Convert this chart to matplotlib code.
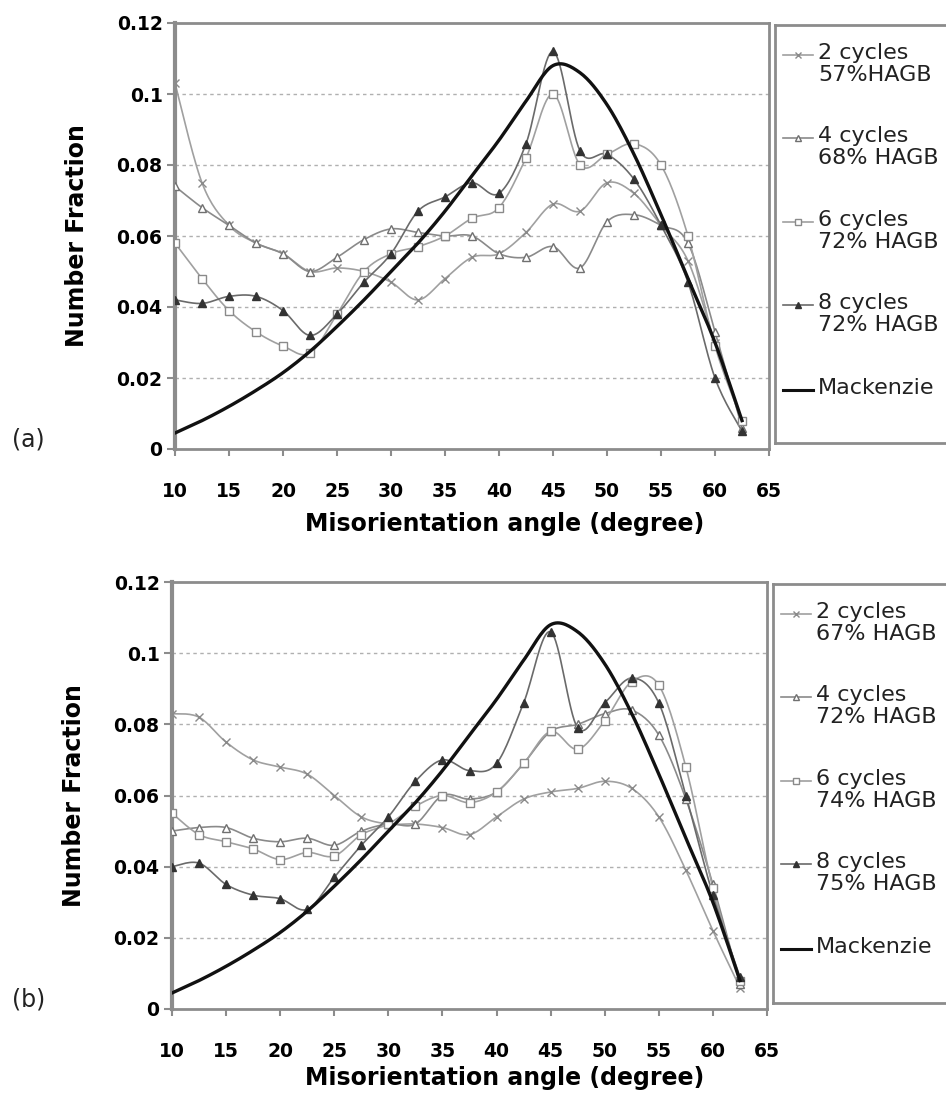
import numpy as np
import matplotlib
matplotlib.use("Agg")
import matplotlib.pyplot as plt

# ---------------- data ----------------
angles = [10, 12.5, 15, 17.5, 20, 22.5, 25, 27.5, 30, 32.5, 35, 37.5,
          40, 42.5, 45, 47.5, 50, 52.5, 55, 57.5, 60, 62.5]

mackenzie = [0.0045, 0.0080, 0.0120, 0.0165, 0.0215, 0.0275, 0.0345, 0.042,
             0.050, 0.058, 0.067, 0.077, 0.087, 0.098, 0.108, 0.106, 0.097,
             0.083, 0.066, 0.048, 0.030, 0.008]

a_2cyc = [0.103, 0.075, 0.063, 0.058, 0.055, 0.050, 0.051, 0.050, 0.047, 0.042, 0.048,
          0.054, 0.055, 0.061, 0.069, 0.067, 0.075, 0.072, 0.063, 0.053, 0.030, 0.008]
a_4cyc = [0.074, 0.068, 0.063, 0.058, 0.055, 0.050, 0.054, 0.059, 0.062, 0.061, 0.060,
          0.060, 0.055, 0.054, 0.057, 0.051, 0.064, 0.066, 0.063, 0.058, 0.033, 0.006]
a_6cyc = [0.058, 0.048, 0.039, 0.033, 0.029, 0.027, 0.038, 0.050, 0.055, 0.057, 0.060,
          0.065, 0.068, 0.082, 0.100, 0.080, 0.083, 0.086, 0.080, 0.060, 0.029, 0.008]
a_8cyc = [0.042, 0.041, 0.043, 0.043, 0.039, 0.032, 0.038, 0.047, 0.055, 0.067, 0.071,
          0.075, 0.072, 0.086, 0.112, 0.084, 0.083, 0.076, 0.063, 0.047, 0.020, 0.005]

b_2cyc = [0.083, 0.082, 0.075, 0.070, 0.068, 0.066, 0.060, 0.054, 0.052, 0.052, 0.051,
          0.049, 0.054, 0.059, 0.061, 0.062, 0.064, 0.062, 0.054, 0.039, 0.022, 0.006]
b_4cyc = [0.050, 0.051, 0.051, 0.048, 0.047, 0.048, 0.046, 0.050, 0.052, 0.052, 0.060,
          0.059, 0.061, 0.069, 0.078, 0.080, 0.083, 0.084, 0.077, 0.059, 0.035, 0.007]
b_6cyc = [0.055, 0.049, 0.047, 0.045, 0.042, 0.044, 0.043, 0.049, 0.052, 0.057, 0.060,
          0.058, 0.061, 0.069, 0.078, 0.073, 0.081, 0.092, 0.091, 0.068, 0.034, 0.008]
b_8cyc = [0.040, 0.041, 0.035, 0.032, 0.031, 0.028, 0.037, 0.046, 0.054, 0.064, 0.070,
          0.067, 0.069, 0.086, 0.106, 0.079, 0.086, 0.093, 0.086, 0.060, 0.032, 0.009]

labels_a = ["2 cycles\n57%HAGB", "4 cycles\n68% HAGB", "6 cycles\n72% HAGB",
            "8 cycles\n72% HAGB", "Mackenzie"]
labels_b = ["2 cycles\n67% HAGB", "4 cycles\n72% HAGB", "6 cycles\n74% HAGB",
            "8 cycles\n75% HAGB", "Mackenzie"]

xticks = [10, 15, 20, 25, 30, 35, 40, 45, 50, 55, 60, 65]
yticks = [0, 0.02, 0.04, 0.06, 0.08, 0.1, 0.12]
ytick_labels = ["0", "0.02", "0.04", "0.06", "0.08", "0.1", "0.12"]

# ---------------- styles ----------------
styles = [
    dict(color="#a0a0a0", marker="x", mfc="none", mec="#8a8a8a", ms=5.5, mew=1.0),
    dict(color="#8a8a8a", marker="^", mfc="white", mec="#707070", ms=6, mew=1.0),
    dict(color="#a0a0a0", marker="s", mfc="white", mec="#8a8a8a", ms=6, mew=1.0),
    dict(color="#6a6a6a", marker="^", mfc="#333333", mec="#333333", ms=6, mew=1.0),
]
FRAME = "#8c8c8c"
FONT = "DejaVu Sans"


def smooth(x, y, n=16):
    """Catmull-Rom rendering of a polyline (Excel-like smoothed line)."""
    p = np.column_stack([x, y]).astype(float)
    out = []
    for i in range(len(p) - 1):
        p0 = p[i - 1] if i > 0 else p[i]
        p1, p2 = p[i], p[i + 1]
        p3 = p[i + 2] if i + 2 < len(p) else p[i + 1]
        t = np.linspace(0, 1, n, endpoint=False)[:, None]
        seg = 0.5 * ((2 * p1) + (-p0 + p2) * t + (2 * p0 - 5 * p1 + 4 * p2 - p3) * t ** 2
                     + (-p0 + 3 * p1 - 3 * p2 + p3) * t ** 3)
        out.append(seg)
    out.append(p[-1][None, :])
    s = np.vstack(out)
    return s[:, 0], s[:, 1]


W, H = 946, 1097
fig = plt.figure(figsize=(W / 100, H / 100), dpi=100)


def panel(left, top, right, bottom, series, labels, tag, leg_left, leg_top, leg_bottom,
          ylab_x, xlab_y):
    ax = fig.add_axes([left / W, 1 - bottom / H, (right - left) / W, (bottom - top) / H])
    ax.set_xlim(10, 65)
    ax.set_ylim(0, 0.12)
    for gy in yticks[1:-1]:
        ax.axhline(gy, color="#b0b0b0", lw=1.0, ls=(0, (2.5, 2.5)), zorder=0)
    for vals, st in zip(series, styles):
        sx, sy = smooth(angles, vals)
        ax.plot(sx, sy, color=st["color"], lw=1.2, zorder=2)
        ax.plot(angles, vals, ls="none", marker=st["marker"], mfc=st["mfc"],
                mec=st["mec"], ms=st["ms"], mew=st["mew"], zorder=3)
    mx, my = smooth(angles, mackenzie)
    ax.plot(mx, my, color="#111111", lw=2.4, zorder=4)

    ax.set_xticks(xticks)
    ax.set_xticklabels([str(t) for t in xticks])
    ax.set_yticks(yticks)
    ax.set_yticklabels(ytick_labels)
    ax.tick_params(axis="x", direction="out", length=5, width=1.5, color=FRAME, pad=19)
    ax.tick_params(axis="y", direction="out", length=6, width=1.5, color=FRAME, pad=3)
    for lab in ax.get_xticklabels() + ax.get_yticklabels():
        lab.set_fontfamily(FONT)
        lab.set_fontweight("bold")
        lab.set_fontsize(13.5)
    for sp in ax.spines.values():
        sp.set_color(FRAME)
        sp.set_linewidth(2.0)
    ax.spines["left"].set_linewidth(3.0)

    fig.text(ylab_x / W, 1 - (top + bottom) / 2 / H, "Number Fraction", rotation=90,
             ha="center", va="center", fontsize=17, fontweight="bold", family=FONT)
    fig.text(505 / W, 1 - xlab_y / H, "Misorientation angle (degree)", ha="center",
             va="center", fontsize=17, fontweight="bold", family=FONT)
    fig.text(12 / W, 1 - (bottom - 9) / H, tag, ha="left", va="center",
             fontsize=17, family=FONT, color="#222222")

    # legend box (drawn in pixel units)
    lw_px = 230
    lh_px = leg_bottom - leg_top
    lax = fig.add_axes([leg_left / W, 1 - leg_bottom / H, lw_px / W, lh_px / H])
    lax.set_xlim(0, lw_px)
    lax.set_ylim(lh_px, 0)
    lax.set_xticks([])
    lax.set_yticks([])
    for sp in lax.spines.values():
        sp.set_color(FRAME)
        sp.set_linewidth(2.0)
    entry_y = [30, 113, 197, 280, 365]
    for i, lab in enumerate(labels):
        yy = entry_y[i]
        if i < 4:
            st = styles[i]
            lax.plot([8, 38], [yy, yy], color=st["color"], lw=1.2)
            lax.plot([23], [yy], ls="none", marker=st["marker"], mfc=st["mfc"],
                     mec=st["mec"], ms=st["ms"] - 1.5, mew=st["mew"])
        else:
            lax.plot([8, 38], [yy, yy], color="#111111", lw=2.2)
        lax.text(43, yy - 12, lab, ha="left", va="top", fontsize=16, family=FONT,
                 color="#222222", linespacing=1.1)
    return ax


panel(175, 23, 769, 449, [a_2cyc, a_4cyc, a_6cyc, a_8cyc], labels_a, "(a)",
      775, 25, 443, 77, 524)
panel(172, 582, 767, 1009, [b_2cyc, b_4cyc, b_6cyc, b_8cyc], labels_b, "(b)",
      773, 584, 1003, 74, 1078)

fig.savefig("out.png", dpi=100)
